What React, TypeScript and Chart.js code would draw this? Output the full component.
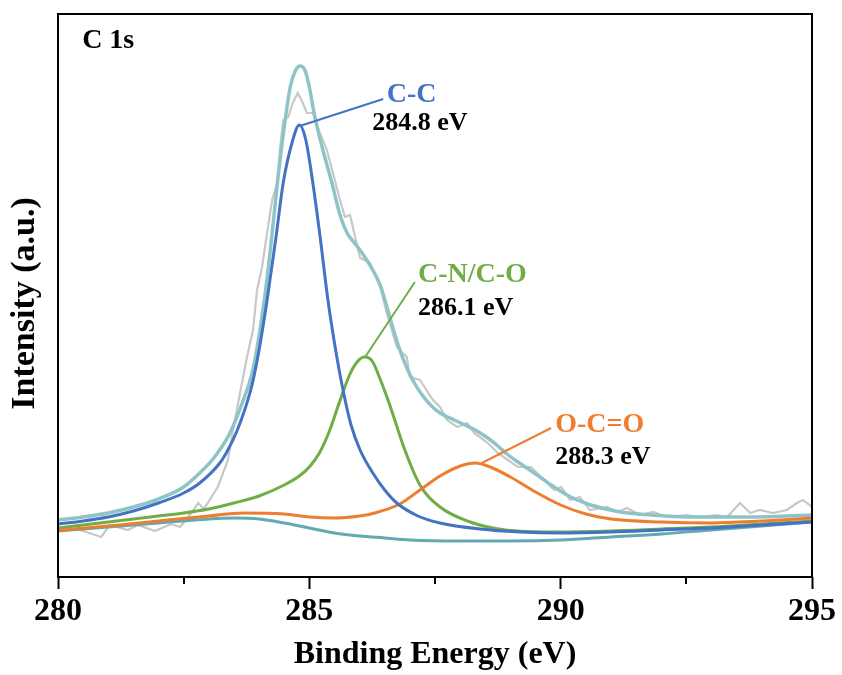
import { useEffect, useRef } from "react";
import { Chart, registerables } from "chart.js";

Chart.register(...registerables);

const X_MIN = 280;
const X_MAX = 295;
const X_MAJOR_STEP = 5;
const X_MINOR_TICKS = [282.5, 287.5, 292.5];
const Y_MIN = 0;
const Y_MAX = 563;

const X_TITLE = "Binding Energy (eV)";
const Y_TITLE = "Intensity (a.u.)";
const PANEL_LABEL = "C 1s";

// Raw spectrum (binding energy eV, intensity a.u.)
const RAW: [number, number][] = [
  [280.0, 49], [280.44, 47], [280.86, 40], [281.03, 52], [281.39, 47], [281.59, 52],
  [281.93, 46], [282.25, 53], [282.43, 50], [282.65, 64], [282.79, 74], [282.9, 68],
  [283.18, 90], [283.38, 117], [283.48, 147], [283.76, 220], [283.88, 247], [283.96, 287],
  [284.06, 310], [284.16, 344], [284.26, 377], [284.36, 394], [284.42, 430], [284.48, 457],
  [284.58, 460], [284.67, 474], [284.77, 484], [284.87, 474], [284.95, 464], [285.07, 464],
  [285.21, 444], [285.35, 427], [285.47, 404], [285.61, 377], [285.71, 360], [285.81, 362],
  [285.91, 340], [286.01, 319], [286.21, 314], [286.41, 290], [286.54, 264], [286.74, 230],
  [286.94, 220], [287.0, 200], [287.2, 197], [287.46, 177], [287.6, 170], [287.74, 157],
  [287.94, 150], [288.14, 154], [288.28, 144], [288.39, 140], [288.55, 134], [288.75, 124],
  [288.95, 117], [289.15, 110], [289.41, 110], [289.61, 100], [289.87, 87], [290.01, 90],
  [290.19, 77], [290.38, 80], [290.58, 67], [290.92, 70], [291.12, 65], [291.32, 69],
  [291.58, 62], [291.84, 65], [292.11, 60], [292.51, 62], [292.77, 60], [293.11, 62],
  [293.31, 60], [293.57, 74], [293.77, 64], [293.96, 67], [294.22, 64], [294.5, 67],
  [294.7, 74], [294.82, 77], [295.0, 70],
];

// Fitted envelope
const ENVELOPE: [number, number][] = [
  [280, 57], [280.5, 60], [281, 64], [281.5, 70], [282, 78], [282.5, 90], [282.82, 104],
  [283.1, 119], [283.4, 142], [283.65, 172], [283.88, 208], [284.08, 268], [284.22, 325],
  [284.36, 392], [284.48, 442], [284.62, 490], [284.72, 506], [284.82, 511], [284.92, 506],
  [285.0, 490], [285.11, 460], [285.27, 427], [285.45, 394], [285.61, 362], [285.75, 344],
  [285.9, 334], [286.05, 324], [286.25, 308], [286.41, 292], [286.6, 260], [286.78, 230],
  [286.94, 209], [287.1, 193], [287.26, 181], [287.43, 171], [287.6, 164], [287.88, 157],
  [288.1, 152], [288.3, 147], [288.55, 139], [288.75, 131], [288.93, 123], [289.21, 113],
  [289.59, 100], [289.87, 90], [290.2, 80], [290.54, 73], [290.9, 68], [291.2, 65],
  [291.8, 62], [292.53, 60], [293.85, 60], [295, 62],
];

// C-C component (284.8 eV)
const PEAK_CC: [number, number][] = [
  [280, 53], [280.5, 56], [281, 60], [281.5, 66], [282, 74], [282.5, 84], [282.82, 94],
  [283.22, 114], [283.38, 127], [283.56, 146], [283.72, 168], [283.86, 192], [284.0, 227],
  [284.16, 277], [284.34, 341], [284.48, 394], [284.66, 435], [284.8, 452], [284.93, 437],
  [285.07, 394], [285.21, 342], [285.37, 277], [285.53, 225], [285.67, 187], [285.83, 152],
  [286.01, 127], [286.25, 105], [286.5, 87], [286.74, 74], [287.16, 61], [287.6, 54],
  [288.39, 48], [289.19, 45], [289.99, 44], [291, 45], [292, 47], [293, 49], [294, 52],
  [295, 55],
];

// C-N/C-O component (286.1 eV)
const PEAK_CN: [number, number][] = [
  [280, 49], [281, 55], [282, 61], [282.5, 64], [283, 68], [283.5, 74], [284, 81],
  [284.5, 92], [284.8, 101], [285.0, 110], [285.2, 124], [285.4, 146], [285.6, 175],
  [285.8, 202], [285.95, 215], [286.1, 220], [286.25, 216], [286.4, 199], [286.6, 172],
  [286.9, 127], [287.2, 92], [287.6, 70], [288.2, 55], [288.9, 47], [289.9, 45], [291, 46],
  [292, 48], [293, 50], [294, 53], [295, 56],
];

// O-C=O component (288.3 eV)
const PEAK_OCO: [number, number][] = [
  [280, 47], [281, 51], [282, 56], [283, 61], [283.7, 64], [284.5, 63], [285, 60],
  [285.5, 59], [286, 61], [286.3, 64], [286.8, 73], [287.2, 87], [287.6, 101], [288, 111],
  [288.3, 114], [288.6, 110], [289, 100], [289.5, 85], [290, 72], [290.5, 63], [291, 58],
  [292, 55], [293, 54], [294, 56], [295, 59],
];

// Background
const BACKGROUND: [number, number][] = [
  [280, 46], [281, 50], [282, 54], [283, 58], [283.5, 59], [284, 58], [284.5, 54],
  [285, 49], [285.5, 44], [286, 41], [286.5, 39], [287, 37], [288, 36], [289, 36],
  [290, 37], [291, 40], [292, 43], [293, 47], [294, 51], [295, 55],
];

// Annotations: text, anchor (eV, intensity), colour, size
const LABELS: { text: string; x: number; y: number; color: string; size: number }[] = [
  { text: "C-C", x: 286.54, y: 482, color: "#4472C4", size: 28 },
  { text: "284.8 eV", x: 286.25, y: 454, color: "#000000", size: 26 },
  { text: "C-N/C-O", x: 287.16, y: 302, color: "#70AD47", size: 28 },
  { text: "286.1 eV", x: 287.16, y: 269, color: "#000000", size: 26 },
  { text: "O-C=O", x: 289.89, y: 152, color: "#ED7D31", size: 28 },
  { text: "288.3 eV", x: 289.89, y: 120, color: "#000000", size: 26 },
];

const LEADERS: { from: [number, number]; to: [number, number]; color: string }[] = [
  { from: [284.81, 451], to: [286.47, 478], color: "#4472C4" },
  { from: [286.11, 220], to: [287.1, 295], color: "#70AD47" },
  { from: [288.43, 114], to: [289.81, 149], color: "#ED7D31" },
];

const PANEL_POS: [number, number] = [280.48, 536];

const FONT = "'Liberation Serif', 'Times New Roman', serif";

const decorPlugin = {
  id: "decor",
  afterDatasetsDraw(chart: any) {
    const { ctx, scales } = chart;
    const xs = scales.x;
    const ys = scales.y;
    ctx.save();
    for (const l of LEADERS) {
      ctx.beginPath();
      ctx.strokeStyle = l.color;
      ctx.lineWidth = 2;
      ctx.moveTo(xs.getPixelForValue(l.from[0]), ys.getPixelForValue(l.from[1]));
      ctx.lineTo(xs.getPixelForValue(l.to[0]), ys.getPixelForValue(l.to[1]));
      ctx.stroke();
    }
    ctx.textAlign = "left";
    ctx.textBaseline = "middle";
    for (const t of LABELS) {
      ctx.font = `bold ${t.size}px ${FONT}`;
      ctx.fillStyle = t.color;
      ctx.fillText(t.text, xs.getPixelForValue(t.x), ys.getPixelForValue(t.y));
    }
    ctx.font = `bold 28px ${FONT}`;
    ctx.fillStyle = "#000";
    ctx.fillText(PANEL_LABEL, xs.getPixelForValue(PANEL_POS[0]), ys.getPixelForValue(PANEL_POS[1]));
    ctx.restore();
  },
  afterDraw(chart: any) {
    const { ctx, chartArea, scales } = chart;
    const xs = scales.x;
    ctx.save();
    ctx.strokeStyle = "#000";
    ctx.lineWidth = 2;
    ctx.strokeRect(chartArea.left, chartArea.top, chartArea.right - chartArea.left, chartArea.bottom - chartArea.top);
    for (const v of X_MINOR_TICKS) {
      const px = Math.round(xs.getPixelForValue(v));
      ctx.beginPath();
      ctx.moveTo(px, chartArea.bottom);
      ctx.lineTo(px, chartArea.bottom + 7);
      ctx.stroke();
    }
    ctx.translate(25, (chartArea.top + chartArea.bottom) / 2 + 8);
    ctx.rotate(-Math.PI / 2);
    ctx.font = `bold 34px ${FONT}`;
    ctx.textAlign = "center";
    ctx.textBaseline = "middle";
    ctx.fillStyle = "#000";
    ctx.fillText(Y_TITLE, 0, 0);
    ctx.restore();
  },
};

function toPts(a: [number, number][]) {
  return a.map(([x, y]) => ({ x, y }));
}

export default function App() {
  const ref = useRef<HTMLCanvasElement | null>(null);
  useEffect(() => {
    if (!ref.current) return;
    const smooth = { tension: 0.4, cubicInterpolationMode: "monotone" as const, pointRadius: 0, fill: false };
    const chart = new Chart(ref.current, {
      type: "line",
      data: {
        datasets: [
          { label: "C-C", data: toPts(PEAK_CC), borderColor: "#4472C4", borderWidth: 3, ...smooth },
          { label: "O-C=O", data: toPts(PEAK_OCO), borderColor: "#ED7D31", borderWidth: 3, ...smooth },
          { label: "C-N/C-O", data: toPts(PEAK_CN), borderColor: "#70AD47", borderWidth: 3, ...smooth },
          { label: "Envelope", data: toPts(ENVELOPE), borderColor: "#8EC4C7", borderWidth: 3.5, ...smooth },
          { label: "Background", data: toPts(BACKGROUND), borderColor: "#62A9B1", borderWidth: 3, ...smooth },
          { label: "Raw", data: toPts(RAW), borderColor: "#C8C8C8", borderWidth: 2.2, tension: 0, pointRadius: 0, fill: false },
        ],
      },
      options: {
        animation: false,
        responsive: false,
        events: [],
        layout: { padding: { left: 0, right: 30, top: 14, bottom: 0 } },
        plugins: { legend: { display: false }, tooltip: { enabled: false } },
        scales: {
          x: {
            type: "linear",
            min: X_MIN,
            max: X_MAX,
            afterFit: (s: any) => { s.height = 98; },
            ticks: {
              stepSize: X_MAJOR_STEP,
              color: "#000",
              padding: 4,
              font: { family: FONT, size: 32, weight: "bold" },
            },
            grid: { display: true, drawOnChartArea: false, drawTicks: true, tickLength: 12, tickWidth: 2, tickColor: "#000" },
            border: { display: false },
            title: {
              display: true,
              text: X_TITLE,
              color: "#000",
              font: { family: FONT, size: 32, weight: "bold" },
              padding: { top: 0, bottom: 1 },
            },
          },
          y: {
            type: "linear",
            min: Y_MIN,
            max: Y_MAX,
            afterFit: (s: any) => { s.width = 58; },
            ticks: { display: false },
            grid: { display: false },
            border: { display: false },
          },
        },
      },
      plugins: [decorPlugin],
    });
    return () => chart.destroy();
  }, []);
  return (
    <canvas
      ref={ref}
      width={842}
      height={675}
      style={{ position: "absolute", left: 0, top: 0, display: "block", background: "#fff" }}
    />
  );
}
